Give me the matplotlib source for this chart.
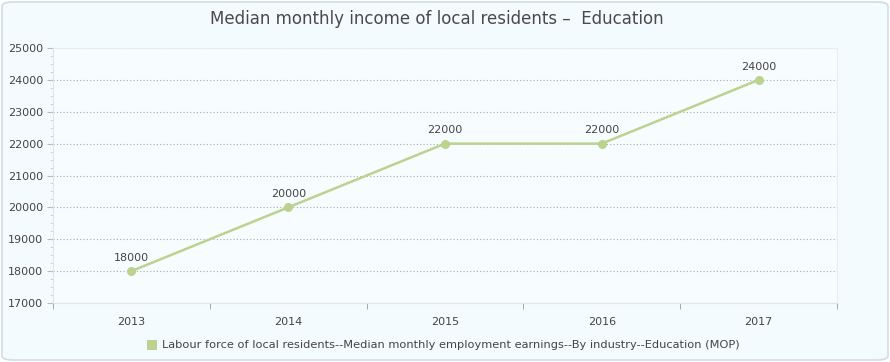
import matplotlib
matplotlib.use("Agg")
import matplotlib.pyplot as plt
from matplotlib.patches import FancyBboxPatch, Rectangle
from matplotlib.ticker import MultipleLocator, FixedLocator

years = ["2013", "2014", "2015", "2016", "2017"]
earnings = [18000, 20000, 22000, 22000, 24000]
series_name = "Labour force of local residents--Median monthly employment earnings--By industry--Education (MOP)"
title = "Median monthly income of local residents \u2013  Education"

W, H = 890, 362
fig = plt.figure(figsize=(W / 100, H / 100), dpi=100)
fig.patch.set_facecolor("white")
bg = FancyBboxPatch((2 / W, 2 / H), (W - 4) / W, (H - 4) / H,
                    boxstyle="round,pad=0,rounding_size=0.012",
                    transform=fig.transFigure, facecolor="#f4fbfe",
                    edgecolor="#cfdde3", linewidth=1.2, zorder=-10)
fig.patches.append(bg)

left, right, top, bottom = 53, 837, 48, 303
ax = fig.add_axes([left / W, 1 - bottom / H, (right - left) / W, (bottom - top) / H])
ax.set_zorder(5)
ax.set_facecolor("#f7fdff")

color = "#bcd28f"
x = list(range(len(years)))
ax.plot(x, earnings, color=color, lw=1.8, marker="o", ms=5.5, zorder=3)
for xi, v in zip(x, earnings):
    ax.annotate(f"{v}", (xi, v), xytext=(0, 6), textcoords="offset points",
                ha="center", va="bottom", fontsize=8, color="#444444")

ax.set_xlim(-0.5, len(years) - 0.5)
ax.set_ylim(17000, 25000)
ax.yaxis.set_major_locator(MultipleLocator(1000))
ax.yaxis.set_minor_locator(MultipleLocator(250))
ax.set_xticks(x)
ax.set_xticklabels(years)
ax.xaxis.set_minor_locator(FixedLocator([i + 0.5 for i in range(-1, len(years))]))
ax.tick_params(axis="x", which="major", length=0, pad=10, labelsize=8, labelcolor="#444444")
ax.tick_params(axis="x", which="minor", length=4, color="#999999", direction="out")
ax.tick_params(axis="y", which="major", length=4, color="#bbbbbb", labelsize=8, labelcolor="#444444", pad=3)
ax.tick_params(axis="y", which="minor", length=2.5, color="#cccccc")
ax.grid(axis="y", which="major", linestyle=(0, (1, 2)), color="#aaaaaa", lw=0.8)
ax.set_axisbelow(True)
for s in ["top", "right"]:
    ax.spines[s].set_color("#e6eef2")
for s in ["left", "bottom"]:
    ax.spines[s].set_color("#dde6ea")

fig.text(0.491, 1 - 19 / H, title, ha="center", va="center", fontsize=12, color="#4a4a4a", zorder=6)

fig.patches.append(Rectangle((147 / W, 1 - 350 / H), 10 / W, 10 / H,
                             transform=fig.transFigure, facecolor=color, edgecolor="none", zorder=6))
fig.text(162 / W, 1 - 345 / H, series_name, ha="left", va="center", fontsize=8.2, color="#444444", zorder=6)

fig.savefig("out.png", dpi=100, facecolor=fig.get_facecolor())
